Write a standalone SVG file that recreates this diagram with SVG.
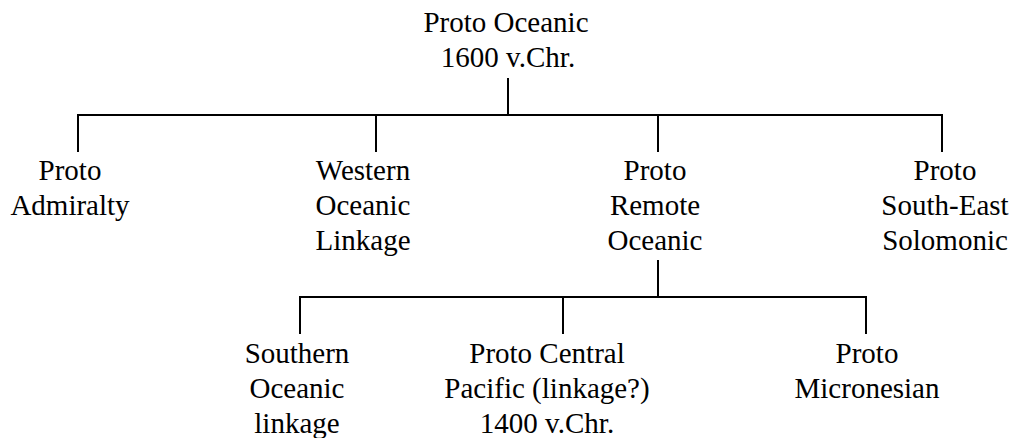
<svg xmlns="http://www.w3.org/2000/svg" width="1021" height="438" viewBox="0 0 1021 438">
  <style>
    .lbl { font-family: "Liberation Serif", "Times New Roman", serif; font-size: 29px; fill: #000; text-anchor: middle; }
    .wire { stroke: #000; stroke-width: 2; fill: none; stroke-linecap: square; }
  </style>
  <rect width="1021" height="438" fill="#fff"/>

  <g id="connectors">
    <!-- root to first level -->
    <path class="wire" d="M508 79 V115 M78 115 H942 M78 115 V151 M376 115 V151 M658 115 V151 M942 115 V151"/>
    <!-- Proto Remote Oceanic to second level -->
    <path class="wire" d="M658 261 V297 M300 297 H866 M300 297 V333 M563 297 V333 M866 297 V333"/>
  </g>

  <g id="node-proto-oceanic">
    <text class="lbl" x="506" y="32">Proto Oceanic</text>
    <text class="lbl" x="508" y="67">1600 v.Chr.</text>
  </g>
  <g id="node-proto-admiralty">
    <text class="lbl" x="70" y="180">Proto</text>
    <text class="lbl" x="70" y="215">Admiralty</text>
  </g>
  <g id="node-western-oceanic">
    <text class="lbl" x="363" y="180">Western</text>
    <text class="lbl" x="363" y="215">Oceanic</text>
    <text class="lbl" x="363" y="250">Linkage</text>
  </g>
  <g id="node-proto-remote-oceanic">
    <text class="lbl" x="655" y="180">Proto</text>
    <text class="lbl" x="655" y="215">Remote</text>
    <text class="lbl" x="655" y="250">Oceanic</text>
  </g>
  <g id="node-proto-se-solomonic">
    <text class="lbl" x="945" y="180">Proto</text>
    <text class="lbl" x="945" y="215">South-East</text>
    <text class="lbl" x="945" y="250">Solomonic</text>
  </g>
  <g id="node-southern-oceanic">
    <text class="lbl" x="297" y="363">Southern</text>
    <text class="lbl" x="297" y="398">Oceanic</text>
    <text class="lbl" x="297" y="433">linkage</text>
  </g>
  <g id="node-proto-central-pacific">
    <text class="lbl" x="547" y="363">Proto Central</text>
    <text class="lbl" x="547" y="398">Pacific (linkage?)</text>
    <text class="lbl" x="547" y="433">1400 v.Chr.</text>
  </g>
  <g id="node-proto-micronesian">
    <text class="lbl" x="867" y="363">Proto</text>
    <text class="lbl" x="867" y="398">Micronesian</text>
  </g>
</svg>
